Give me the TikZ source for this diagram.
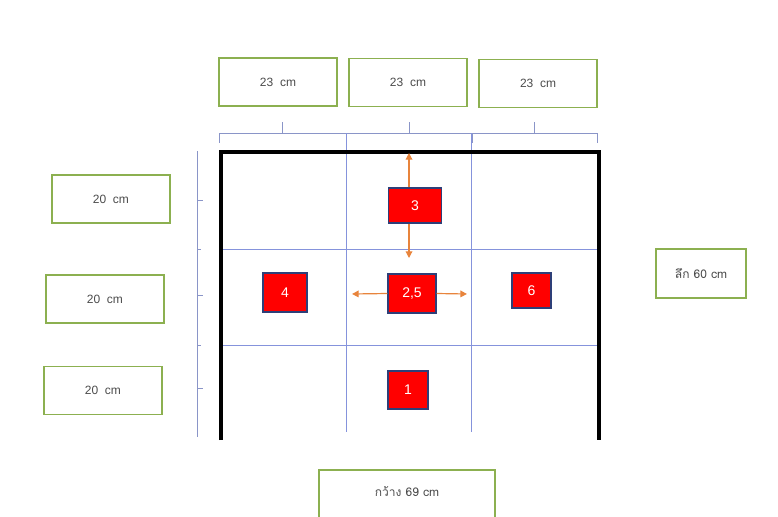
\documentclass[tikz,border=0pt]{standalone}
\usepackage{fontspec}
\setmainfont{Liberation Sans}
\newfontfamily\thaifont[Script=Thai]{Loma}
\usetikzlibrary{arrows.meta}

\definecolor{boxgreen}{HTML}{8CB050}
\definecolor{gridblue}{HTML}{8593DC}
\definecolor{rulerblue}{HTML}{8A95C8}
\definecolor{arrorange}{HTML}{E8843C}
\definecolor{spotedge}{HTML}{2E3F78}

\begin{document}
\begin{tikzpicture}[x=0.75pt,y=-0.75pt,
    sizebox/.style={draw=boxgreen,line width=0.9pt,fill=white,text=black!70,
        font=\fontsize{9}{10}\selectfont,minimum width=88.5pt,minimum height=36pt},
    spot/.style={draw=spotedge,line width=0.8pt,fill=red,text=white,
        font=\fontsize{10.5}{12}\selectfont,inner sep=0pt},
    gridline/.style={draw=gridblue,line width=0.5pt},
    ruler/.style={draw=rulerblue,line width=0.5pt},
    move/.style={draw=arrorange,line width=0.9pt,-{Triangle[length=5pt,width=5pt]}}
]
\useasboundingbox (0,0) rectangle (778,517);

% rulers
\draw[ruler] (219,133)--(597,133);
\foreach \x in {219,346,472,597} \draw[ruler] (\x,133)--(\x,143);
\foreach \x in {282,409,534} \draw[ruler] (\x,122)--(\x,133);
\draw[ruler] (197,151)--(197,437);
\foreach \y in {200,295,388} \draw[ruler] (197,\y)--(203,\y);
\foreach \y in {249,345} \draw[ruler] (197,\y)--(201,\y);

% grid
\draw[gridline] (346,133)--(346,432) (471,133)--(471,432);
\draw[gridline] (221,249)--(599,249) (221,345)--(599,345);

% frame
\draw[line width=3pt] (221,440)--(221,152)--(599,152)--(599,440);

% size labels
\node[sizebox] (w1) at (278,82) {23\ \ cm};
\node[sizebox] (w2) at (408,82.5) {23\ \ cm};
\node[sizebox] (w3) at (538,83.5) {23\ \ cm};
\node[sizebox] (h1) at (111,199) {20\ \ cm};
\node[sizebox] (h2) at (105,299) {20\ \ cm};
\node[sizebox] (h3) at (103,390.5) {20\ \ cm};
\node[sizebox,minimum width=67.5pt,minimum height=36.75pt] (depth) at (701,273.5) {\thaifont ลึก 60 cm};
\draw[draw=boxgreen,line width=0.9pt] (319,470) rectangle (495,540);
\node[text=black!70,font=\thaifont\fontsize{9}{10}\selectfont] (width) at (407,492) {กว้าง 69 cm};

% speaker spots
\node[spot,minimum width=39.75pt,minimum height=26.25pt] (s3) at (415,205.5) {3};
\node[spot,minimum width=36pt,minimum height=29.25pt] (s25) at (412,293.5) {2,5};
\node[spot,minimum width=33pt,minimum height=29.25pt] (s4) at (285,292.5) {4};
\node[spot,minimum width=29.25pt,minimum height=26.25pt] (s6) at (531.5,290.5) {6};
\node[spot,minimum width=30pt,minimum height=28.5pt] (s1) at (408,390) {1};

% moves
\coordinate (ax) at (409,0);
\coordinate (up) at (409,153);
\coordinate (down) at (409,258);
\coordinate (left) at (352,294);
\coordinate (right) at (467,294);
\draw[move] (s3.north -| ax)--(up);
\draw[move] (s3.south -| ax)--(down);
\draw[move] (s25.west)--(left);
\draw[move] (s25.east)--(right);
\end{tikzpicture}
\end{document}
